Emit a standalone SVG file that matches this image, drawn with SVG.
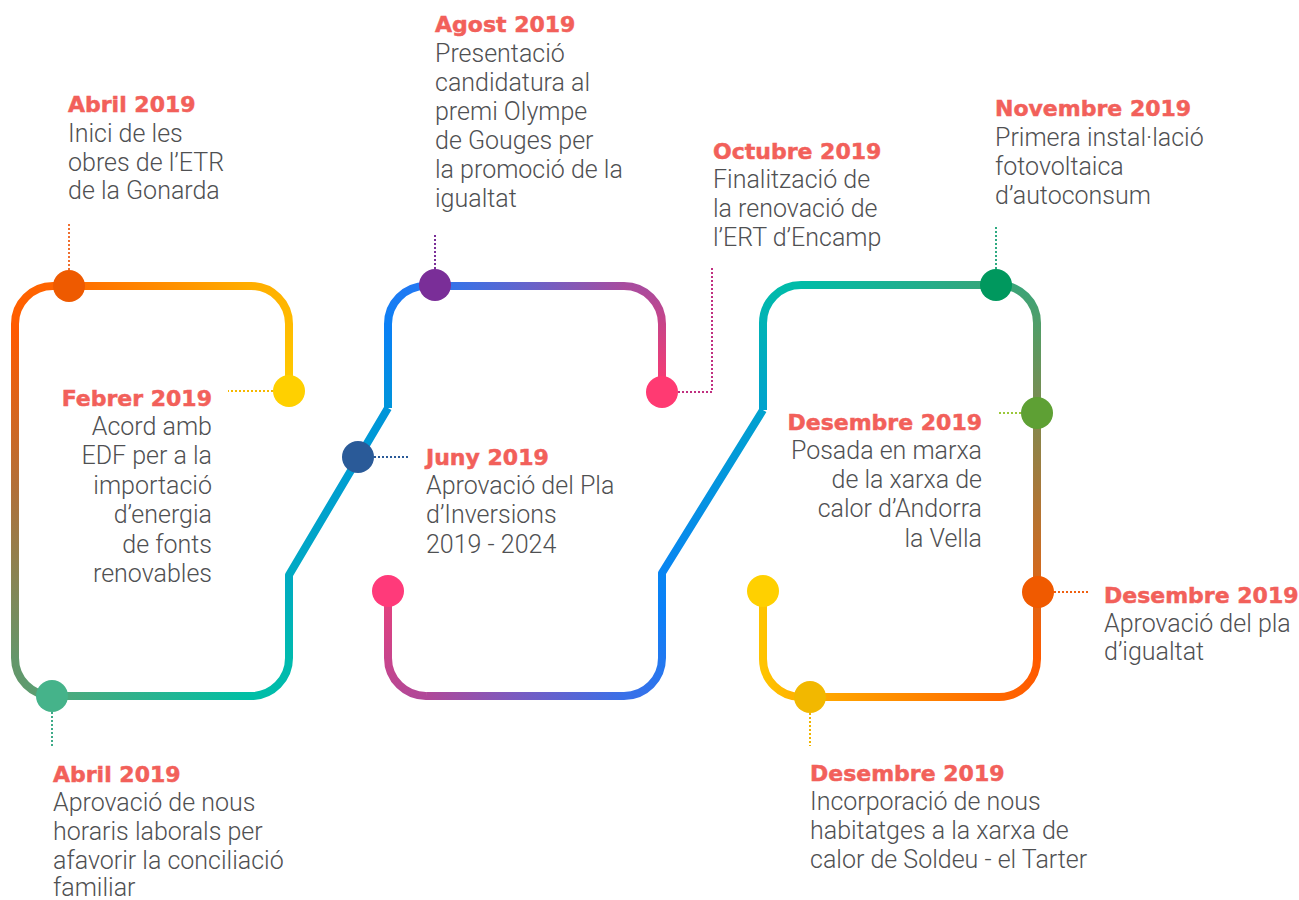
<svg xmlns="http://www.w3.org/2000/svg" width="1299" height="900" viewBox="0 0 1299 900">
<style>
.ln{fill:none;stroke-width:8;stroke-linecap:butt;stroke-linejoin:round}
.dt{fill:none;stroke-width:2;stroke-dasharray:2 2}
.t{font-family:"DejaVu Sans","Liberation Sans",sans-serif;font-weight:bold;font-size:22px;fill:#F2605A;stroke:#F2605A;stroke-width:0.5}
.b{font-family:Roboto,"Liberation Sans",sans-serif;font-weight:300;font-size:25px;fill:#4F5052}
.e{text-anchor:end}
</style>
<defs>
<linearGradient id="gA1" gradientUnits="userSpaceOnUse" x1="289" y1="391" x2="251" y2="286"><stop offset="0" stop-color="#FFCC00"/><stop offset="1" stop-color="#FFAE00"/></linearGradient>
<linearGradient id="gA2" gradientUnits="userSpaceOnUse" x1="251" y1="0" x2="53" y2="0"><stop offset="0" stop-color="#FFAE00"/><stop offset="1" stop-color="#FF6400"/></linearGradient>
<linearGradient id="gA3" gradientUnits="userSpaceOnUse" x1="0" y1="286" x2="0" y2="658"><stop offset="0" stop-color="#FF6400"/><stop offset="0.12" stop-color="#FF5A00"/><stop offset="0.55" stop-color="#B0703A"/><stop offset="1" stop-color="#64966A"/></linearGradient>
<linearGradient id="gC" gradientUnits="userSpaceOnUse" x1="15" y1="0" x2="289" y2="0"><stop offset="0" stop-color="#64966A"/><stop offset="0.2" stop-color="#4AAA7E"/><stop offset="0.85" stop-color="#00BFA5"/><stop offset="1" stop-color="#00BAAE"/></linearGradient>
<linearGradient id="gD" gradientUnits="userSpaceOnUse" x1="289" y1="658" x2="388" y2="408"><stop offset="0" stop-color="#00BAAE"/><stop offset="0.33" stop-color="#00A8C5"/><stop offset="1" stop-color="#0095DA"/></linearGradient>
<linearGradient id="gF" gradientUnits="userSpaceOnUse" x1="388" y1="408" x2="426" y2="286"><stop offset="0" stop-color="#0095DA"/><stop offset="0.6" stop-color="#0A80F5"/><stop offset="1" stop-color="#2478F2"/></linearGradient>
<linearGradient id="gG1" gradientUnits="userSpaceOnUse" x1="426" y1="0" x2="624" y2="0"><stop offset="0" stop-color="#2478F2"/><stop offset="0.5" stop-color="#6464CC"/><stop offset="1" stop-color="#A84C9E"/></linearGradient>
<linearGradient id="gG2" gradientUnits="userSpaceOnUse" x1="0" y1="286" x2="0" y2="392"><stop offset="0" stop-color="#A84C9E"/><stop offset="0.35" stop-color="#C84488"/><stop offset="1" stop-color="#FF3A70"/></linearGradient>
<linearGradient id="gH1" gradientUnits="userSpaceOnUse" x1="388" y1="591" x2="427" y2="696"><stop offset="0" stop-color="#E8407C"/><stop offset="1" stop-color="#B04898"/></linearGradient>
<linearGradient id="gH2" gradientUnits="userSpaceOnUse" x1="427" y1="0" x2="624" y2="0"><stop offset="0" stop-color="#B04898"/><stop offset="0.45" stop-color="#7A5AC0"/><stop offset="1" stop-color="#3A70E8"/></linearGradient>
<linearGradient id="gH3" gradientUnits="userSpaceOnUse" x1="624" y1="696" x2="763" y2="410"><stop offset="0" stop-color="#3A70E8"/><stop offset="0.3" stop-color="#0A80F8"/><stop offset="1" stop-color="#00A2CE"/></linearGradient>
<linearGradient id="gJ1" gradientUnits="userSpaceOnUse" x1="763" y1="410" x2="801" y2="285"><stop offset="0" stop-color="#00A2CE"/><stop offset="1" stop-color="#00BCA8"/></linearGradient>
<linearGradient id="gJ2" gradientUnits="userSpaceOnUse" x1="801" y1="0" x2="999" y2="0"><stop offset="0" stop-color="#00BCA8"/><stop offset="1" stop-color="#3AA478"/></linearGradient>
<linearGradient id="gJ3" gradientUnits="userSpaceOnUse" x1="0" y1="285" x2="0" y2="659"><stop offset="0" stop-color="#3AA478"/><stop offset="0.15" stop-color="#5A9A62"/><stop offset="0.55" stop-color="#A8783A"/><stop offset="1" stop-color="#FF5A00"/></linearGradient>
<linearGradient id="gJ4" gradientUnits="userSpaceOnUse" x1="1037" y1="0" x2="763" y2="0"><stop offset="0" stop-color="#FF5A00"/><stop offset="0.5" stop-color="#FF8C00"/><stop offset="0.9" stop-color="#FFB400"/><stop offset="1" stop-color="#FFC400"/></linearGradient>
</defs>
<rect width="1299" height="900" fill="#FFFFFF"/>
<g id="connectors">
<path class="ln" stroke="url(#gA1)" d="M289,391 V324 A38,38 0 0 0 251,286"/>
<path class="ln" stroke="url(#gA2)" d="M251,286 H53"/>
<path class="ln" stroke="url(#gA3)" d="M53,286 A38,38 0 0 0 15,324 V658"/>
<path class="ln" stroke="url(#gC)" d="M15,658 A38,38 0 0 0 53,696 H251 A38,38 0 0 0 289,658"/>
<path class="ln" stroke="url(#gD)" d="M289,658 V575 L388,408"/>
<path class="ln" stroke="url(#gF)" d="M388,408 V324 A38,38 0 0 1 426,286"/>
<path class="ln" stroke="url(#gG1)" d="M426,286 H624"/>
<path class="ln" stroke="url(#gG2)" d="M624,286 A38,38 0 0 1 662,324 V392"/>
<path class="ln" stroke="url(#gH1)" d="M388,591 V658 A38,38 0 0 0 427,696"/>
<path class="ln" stroke="url(#gH2)" d="M427,696 H624"/>
<path class="ln" stroke="url(#gH3)" d="M624,696 A38,38 0 0 0 662,658 V573 L763,410"/>
<path class="ln" stroke="url(#gJ1)" d="M763,410 V323 A38,38 0 0 1 801,285"/>
<path class="ln" stroke="url(#gJ2)" d="M801,285 H999"/>
<path class="ln" stroke="url(#gJ3)" d="M999,285 A38,38 0 0 1 1037,323 V659"/>
<path class="ln" stroke="url(#gJ4)" d="M1037,659 A38,38 0 0 1 999,697 H801 A38,38 0 0 1 763,659 V591"/>
<path class="dt" stroke="#F07030" d="M69,270 V222"/>
<path class="dt" stroke="#F5B800" d="M273,391 H228"/>
<path class="dt" stroke="#3EAA88" d="M52,712 V746"/>
<path class="dt" stroke="#2A5A98" d="M374,457 H410"/>
<path class="dt" stroke="#7A2E98" d="M435,269 V235"/>
<path class="dt" stroke="#C03080" d="M678,392 H712 V268"/>
<path class="dt" stroke="#2EAA80" d="M996,269 V227"/>
<path class="dt" stroke="#9BC83A" d="M1021,413 H998"/>
<path class="dt" stroke="#F06010" d="M1054,592 H1090"/>
<path class="dt" stroke="#F0B400" d="M810,713 V746"/>
</g>
<g id="n-abril1">
<circle cx="69" cy="286" r="16" fill="#EE5A00"/>
<text class="t" x="68" y="112">Abril 2019</text>
<text class="b" x="68" y="142">Inici de les</text>
<text class="b" x="68" y="171">obres de l’ETR</text>
<text class="b" x="68" y="199">de la Gonarda</text>
</g>
<g id="n-febrer">
<circle cx="289" cy="391" r="16" fill="#FFD000"/>
<text class="t e" x="212" y="406">Febrer 2019</text>
<text class="b e" x="212" y="435">Acord amb</text>
<text class="b e" x="212" y="464">EDF per a la</text>
<text class="b e" x="212" y="494">importació</text>
<text class="b e" x="212" y="523">d’energia</text>
<text class="b e" x="212" y="553">de fonts</text>
<text class="b e" x="212" y="582">renovables</text>
</g>
<g id="n-abril2">
<circle cx="52" cy="696" r="16" fill="#45B38A"/>
<text class="t" x="53" y="782">Abril 2019</text>
<text class="b" x="53" y="811">Aprovació de nous</text>
<text class="b" x="53" y="840">horaris laborals per</text>
<text class="b" x="53" y="869">afavorir la conciliació</text>
<text class="b" x="53" y="896">familiar</text>
</g>
<g id="n-juny">
<circle cx="358" cy="457" r="16" fill="#2A5A98"/>
<text class="t" x="426" y="465">Juny 2019</text>
<text class="b" x="426" y="494">Aprovació del Pla</text>
<text class="b" x="426" y="523">d’Inversions</text>
<text class="b" x="426" y="553">2019 - 2024</text>
</g>
<g id="n-agost">
<circle cx="435" cy="285" r="16" fill="#7A2E98"/>
<text class="t" x="435" y="32">Agost 2019</text>
<text class="b" x="435" y="62">Presentació</text>
<text class="b" x="435" y="91">candidatura al</text>
<text class="b" x="435" y="120">premi Olympe</text>
<text class="b" x="435" y="149">de Gouges per</text>
<text class="b" x="435" y="178">la promoció de la</text>
<text class="b" x="435" y="207">igualtat</text>
</g>
<g id="n-octubre">
<circle cx="662" cy="392" r="16" fill="#FF3A72"/>
<text class="t" x="713" y="159">Octubre 2019</text>
<text class="b" x="713" y="188">Finalització de</text>
<text class="b" x="713" y="217">la renovació de</text>
<text class="b" x="713" y="246">l’ERT d’Encamp</text>
</g>
<g id="n-start2">
<circle cx="388" cy="591" r="16" fill="#FF3A7A"/>
</g>
<g id="n-novembre">
<circle cx="996" cy="285" r="16" fill="#00985E"/>
<text class="t" x="995" y="116">Novembre 2019</text>
<text class="b" x="995" y="146">Primera instal·lació</text>
<text class="b" x="995" y="175">fotovoltaica</text>
<text class="b" x="995" y="204">d’autoconsum</text>
</g>
<g id="n-desembre1">
<circle cx="1037" cy="413" r="16" fill="#5EA034"/>
<text class="t e" x="982" y="430">Desembre 2019</text>
<text class="b e" x="982" y="459">Posada en marxa</text>
<text class="b e" x="982" y="488">de la xarxa de</text>
<text class="b e" x="982" y="517">calor d’Andorra</text>
<text class="b e" x="982" y="547">la Vella</text>
</g>
<g id="n-desembre2">
<circle cx="1038" cy="592" r="16" fill="#F05A00"/>
<text class="t" x="1104" y="603">Desembre 2019</text>
<text class="b" x="1104" y="632">Aprovació del pla</text>
<text class="b" x="1104" y="660">d’igualtat</text>
</g>
<g id="n-desembre3">
<circle cx="810" cy="697" r="16" fill="#F2B800"/>
<text class="t" x="810" y="781">Desembre 2019</text>
<text class="b" x="810" y="810">Incorporació de nous</text>
<text class="b" x="810" y="839">habitatges a la xarxa de</text>
<text class="b" x="810" y="868">calor de Soldeu - el Tarter</text>
</g>
<g id="n-end2">
<circle cx="763" cy="591" r="16" fill="#FFD000"/>
</g>
</svg>
